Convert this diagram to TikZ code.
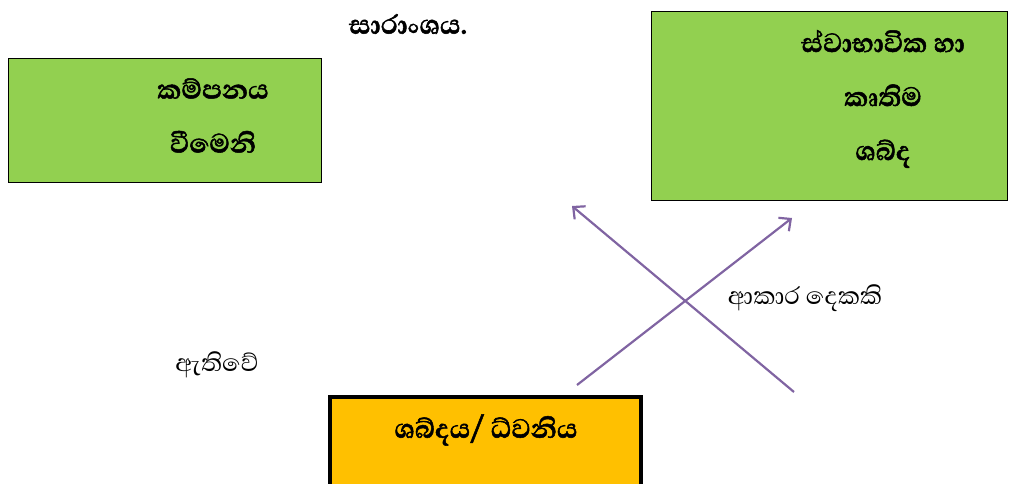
\documentclass[tikz,border=0pt]{standalone}
\usepackage{fontspec}
\newfontfamily\sinfont[Script=Sinhala, BoldFeatures={FakeBold=1.5}]{Abhaya Libre}
\usetikzlibrary{arrows.meta}
\definecolor{leafgreen}{HTML}{92D050}
\definecolor{amber}{HTML}{FFC000}
\definecolor{lavender}{HTML}{8064A2}
\tikzset{
  greenbox/.style={draw=black, fill=leafgreen, line width=0.8pt, inner sep=0pt},
  amberbox/.style={draw=black, fill=amber, line width=4pt, inner sep=0pt},
  boldlabel/.style={font=\sinfont\bfseries\fontsize{34}{54}\selectfont, align=center, inner sep=0pt},
  plainlabel/.style={font=\sinfont\fontsize{31}{36}\selectfont, inner sep=0pt},
  purplearrow/.style={-{Straight Barb[length=9pt, width=17pt]}, lavender, line width=2.2pt}
}
\begin{document}
\begin{tikzpicture}[x=1pt, y=-1pt]
        \useasboundingbox (0,0) rectangle (1009,484);
        \clip (0,0) rectangle (1009,484);

        % Boxes
        \node[greenbox, minimum width=313pt, minimum height=124pt] (vibration) at (164.5,120) {};
        \node[greenbox, minimum width=356pt, minimum height=189pt] (kinds) at (829,105.5) {};
        \node[amberbox, minimum width=311pt, minimum height=110pt] (sound) at (485.5,452) {};

        % Texts in the boxes
        \node[boldlabel] (vibrationtext) at (213,115.5) {කම්පනය\\වීමෙනි};
        \node[boldlabel] (kindstext) at (883,99) {ස්වාභාවික හා\\කෘතිම\\ශබ්ද};
        \node[boldlabel] (soundtext) at (486,430) {ශබ්දය/ ධ්වනිය};

        % Free texts
        \node[boldlabel] (summary) at (408,24) {සාරාංශය.};
        \node[plainlabel] (arises) at (217,365) {ඇතිවේ};
        \node[plainlabel] (twoways) at (805,298) {ආකාර දෙකකි};

        % Crossing arrows
        \coordinate (rightfoot) at (577,385);
        \coordinate (righthead) at (792,218);
        \coordinate (leftfoot) at (794,392);
        \coordinate (lefthead) at (572,206);
        \draw[purplearrow] (rightfoot) -- (righthead);
        \draw[purplearrow] (leftfoot) -- (lefthead);
\end{tikzpicture}
\end{document}
